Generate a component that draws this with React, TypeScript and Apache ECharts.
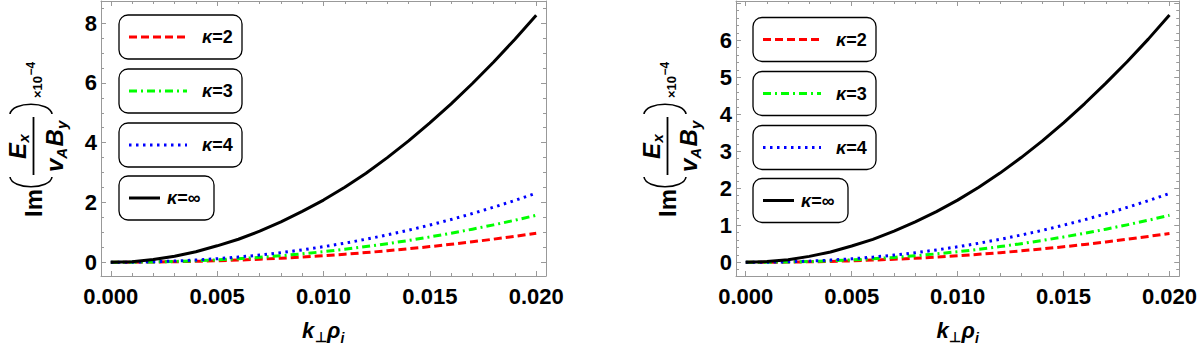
import React, { useEffect, useRef } from "react";
import * as echarts from "echarts";

// ---------- data ----------
const kPerp = [
  0, 0.001, 0.002, 0.003, 0.004, 0.005, 0.006, 0.007, 0.008, 0.009, 0.01,
  0.011, 0.012, 0.013, 0.014, 0.015, 0.016, 0.017, 0.018, 0.019, 0.02,
];

// left panel
const leftKappa2 = [0, 0.002, 0.007, 0.016, 0.03, 0.049, 0.073, 0.102, 0.135, 0.174, 0.219, 0.268, 0.323, 0.384, 0.451, 0.523, 0.6, 0.684, 0.773, 0.869, 0.97];
const leftKappa3 = [0, 0.003, 0.011, 0.027, 0.049, 0.08, 0.118, 0.164, 0.219, 0.282, 0.354, 0.434, 0.524, 0.622, 0.729, 0.846, 0.972, 1.107, 1.251, 1.406, 1.57];
const leftKappa4 = [0, 0.004, 0.016, 0.039, 0.073, 0.117, 0.174, 0.242, 0.322, 0.415, 0.52, 0.639, 0.77, 0.915, 1.073, 1.244, 1.43, 1.629, 1.842, 2.069, 2.31];
const leftKappaInf = [0, 0.02, 0.09, 0.2, 0.35, 0.55, 0.77, 1.04, 1.35, 1.7, 2.08, 2.51, 2.98, 3.5, 4.06, 4.66, 5.3, 5.98, 6.7, 7.46, 8.26];

// right panel
const rightKappa2 = [0, 0.001, 0.006, 0.013, 0.024, 0.04, 0.059, 0.082, 0.109, 0.14, 0.176, 0.216, 0.26, 0.309, 0.362, 0.42, 0.483, 0.55, 0.622, 0.699, 0.78];
const rightKappa3 = [0, 0.002, 0.009, 0.021, 0.04, 0.064, 0.095, 0.133, 0.177, 0.228, 0.286, 0.351, 0.424, 0.503, 0.59, 0.684, 0.786, 0.895, 1.012, 1.137, 1.27];
const rightKappa4 = [0, 0.003, 0.013, 0.031, 0.059, 0.094, 0.14, 0.195, 0.259, 0.334, 0.419, 0.514, 0.62, 0.737, 0.864, 1.002, 1.151, 1.311, 1.483, 1.666, 1.86];
const rightKappaInf = [0, 0.02, 0.07, 0.16, 0.28, 0.44, 0.62, 0.84, 1.09, 1.37, 1.68, 2.03, 2.41, 2.83, 3.28, 3.77, 4.29, 4.84, 5.42, 6.03, 6.68];

const legendLabels = ["{i|κ}=2", "{i|κ}=3", "{i|κ}=4", "{i|κ}=∞"];

const xTicks = [0, 0.005, 0.01, 0.015, 0.02];
const leftYTicks = [0, 2, 4, 6, 8];
const rightYTicks = [0, 1, 2, 3, 4, 5, 6];

const xRange = [-0.00046, 0.02046];
const leftYRange = [-0.46, 8.74];
const rightYRange = [-0.37, 7.06];

// ---------- styles ----------
const curveColors = ["#ff0000", "#00ff00", "#0000ff", "#000000"];
const curveDashes: (number[] | "solid")[] = [[8, 4], [8, 4, 2, 4], [2.5, 4.5], "solid"];
const FONT = "'Liberation Sans', Arial, sans-serif";
const FRAME = "#999999";

function fmtFromTicks(ticks: number[], digits: number) {
  return (v: number) => {
    const t = ticks.find((tv) => Math.abs(tv - v) < 1e-9);
    return t === undefined ? "" : t.toFixed(digits);
  };
}

function frameAxis(extra: any) {
  return {
    type: "value",
    axisLine: { show: true, onZero: false, lineStyle: { color: FRAME, width: 1 } },
    axisTick: { show: true, inside: true, length: 5, lineStyle: { color: FRAME, width: 1 } },
    minorTick: { show: true, length: 3, lineStyle: { color: FRAME, width: 1 } },
    splitLine: { show: false },
    minorSplitLine: { show: false },
    ...extra,
  };
}

function legendGraphics(ox: number, oy: number) {
  const boxYs = [15, 69, 123, 176];
  const els: any[] = [];
  boxYs.forEach((by, i) => {
    const last = i === 3;
    const w = last ? 95 : 123;
    els.push({
      type: "rect",
      shape: { x: ox + 119, y: oy + by, width: w, height: 44, r: 9 },
      style: { fill: "#ffffff", stroke: "#000000", lineWidth: 1.3 },
      z: 10,
    });
    const lx2 = last ? 160 : 187;
    els.push({
      type: "line",
      shape: { x1: ox + 129, y1: oy + by + 22, x2: ox + lx2, y2: oy + by + 22 },
      style: {
        stroke: curveColors[i],
        lineWidth: 3,
        lineDash: curveDashes[i] === "solid" ? null : curveDashes[i],
      },
      z: 11,
    });
    els.push({
      type: "text",
      x: ox + (last ? 167 : 202),
      y: oy + by + 22,
      style: {
        text: legendLabels[i],
        fontFamily: FONT,
        fontWeight: "bold",
        fontSize: 18,
        fill: "#000",
        align: "left",
        verticalAlign: "middle",
        rich: { i: { fontStyle: "italic", fontWeight: "bold", fontSize: 18, fontFamily: FONT } },
      },
      z: 11,
    });
  });
  return els;
}

function rtext(text: string, x: number, y: number, size: number, italic: boolean) {
  return {
    type: "text",
    x,
    y,
    style: {
      text,
      fontFamily: FONT,
      fontWeight: "bold",
      fontStyle: italic ? "italic" : "normal",
      fontSize: size,
      fill: "#000",
      align: "left",
      verticalAlign: "middle",
    },
  };
}

// rotated y-axis title; local x runs up the page, local y runs to the right
function yTitle(ox: number) {
  return {
    type: "group",
    x: ox,
    y: 217,
    rotation: Math.PI / 2,
    children: [
      rtext("Im", 0, 33.5, 24, false),
      {
        type: "bezierCurve",
        shape: { x1: 40, y1: 10, cpx1: 27, cpy1: 12, cpx2: 27, cpy2: 50, x2: 40, y2: 52 },
        style: { stroke: "#000", lineWidth: 1.6, fill: null },
      },
      {
        type: "line",
        shape: { x1: 42, y1: 33.5, x2: 100, y2: 33.5 },
        style: { stroke: "#000", lineWidth: 1.8 },
      },
      rtext("E", 58, 17.7, 24, true),
      rtext("x", 74.5, 23.5, 15, true),
      rtext("v", 45, 54.7, 24, true),
      rtext("A", 58.3, 61.8, 15, true),
      rtext("B", 70.5, 54.7, 24, true),
      rtext("y", 88, 61.8, 15, true),
      {
        type: "bezierCurve",
        shape: { x1: 103, y1: 10, cpx1: 116, cpy1: 12, cpx2: 116, cpy2: 50, x2: 103, y2: 52 },
        style: { stroke: "#000", lineWidth: 1.6, fill: null },
      },
      rtext("×10", 119, 37.5, 13, false),
      rtext("−4", 141.5, 30.8, 12, false),
    ],
  };
}

function xTitle(ox: number) {
  return [
    rtext("k", ox + 302, 330.4, 22, true),
    rtext("⊥", ox + 314.5, 337.2, 14, false),
    rtext("ρ", ox + 327, 330.4, 22, true),
    rtext("i", ox + 340.5, 338.2, 14, true),
  ];
}

function makeSeries(xAxisIndex: number, yAxisIndex: number, sets: number[][]) {
  return sets.map((ys, i) => ({
    type: "line",
    xAxisIndex,
    yAxisIndex,
    data: kPerp.map((x, j) => [x, ys[j]]),
    showSymbol: false,
    symbol: "none",
    smooth: false,
    lineStyle: { color: curveColors[i], width: 3, type: curveDashes[i], join: "round" },
    z: 2 + i,
  }));
}

export default function App() {
  const ref = useRef<HTMLDivElement>(null);
  useEffect(() => {
    if (!ref.current) return;
    const chart = echarts.init(ref.current, null, { renderer: "svg" });
    const labelStyle = { fontFamily: FONT, fontWeight: "bold", fontSize: 22, color: "#000" };
    const xBottom = (gi: number) =>
      frameAxis({
        gridIndex: gi,
        position: "bottom",
        min: xRange[0],
        max: xRange[1],
        minInterval: 0.005,
        maxInterval: 0.005,
        minorTick: { show: true, splitNumber: 5, length: 3, lineStyle: { color: FRAME, width: 1 } },
        axisLabel: { ...labelStyle, margin: 9, showMinLabel: false, showMaxLabel: false, formatter: fmtFromTicks(xTicks, 3) },
      });
    const xTop = (gi: number) =>
      frameAxis({
        gridIndex: gi,
        position: "top",
        min: xRange[0],
        max: xRange[1],
        minInterval: 0.005,
        maxInterval: 0.005,
        minorTick: { show: true, splitNumber: 5, length: 3, lineStyle: { color: FRAME, width: 1 } },
        axisLabel: { show: false },
      });
    const yAx = (gi: number, pos: string, range: number[], iv: number, split: number, ticks: number[] | null) =>
      frameAxis({
        gridIndex: gi,
        position: pos,
        min: range[0],
        max: range[1],
        minInterval: iv,
        maxInterval: iv,
        minorTick: { show: true, splitNumber: split, length: 3, lineStyle: { color: FRAME, width: 1 } },
        axisLabel: ticks
          ? { ...labelStyle, margin: 4, showMinLabel: false, showMaxLabel: false, formatter: fmtFromTicks(ticks, 0) }
          : { show: false },
      });

    chart.setOption({
      animation: false,
      backgroundColor: "#ffffff",
      grid: [
        { left: 101, top: 1, width: 445, height: 275 },
        { left: 736, top: 1, width: 444, height: 275 },
      ],
      xAxis: [xBottom(0), xTop(0), xBottom(1), xTop(1)],
      yAxis: [
        yAx(0, "left", leftYRange, 2, 4, leftYTicks),
        yAx(0, "right", leftYRange, 2, 4, null),
        yAx(1, "left", rightYRange, 1, 5, rightYTicks),
        yAx(1, "right", rightYRange, 1, 5, null),
      ],
      series: [
        ...makeSeries(0, 0, [leftKappa2, leftKappa3, leftKappa4, leftKappaInf]),
        ...makeSeries(2, 2, [rightKappa2, rightKappa3, rightKappa4, rightKappaInf]),
      ],
      graphic: [
        ...legendGraphics(0, 0),
        ...legendGraphics(634, 2.5),
        yTitle(0),
        yTitle(634),
        ...xTitle(0),
        ...xTitle(634.5),
      ],
    });
    return () => chart.dispose();
  }, []);
  return (
    <div
      ref={ref}
      style={{ position: "absolute", left: 0, top: 0, width: 1200, height: 345, background: "#fff" }}
    />
  );
}
